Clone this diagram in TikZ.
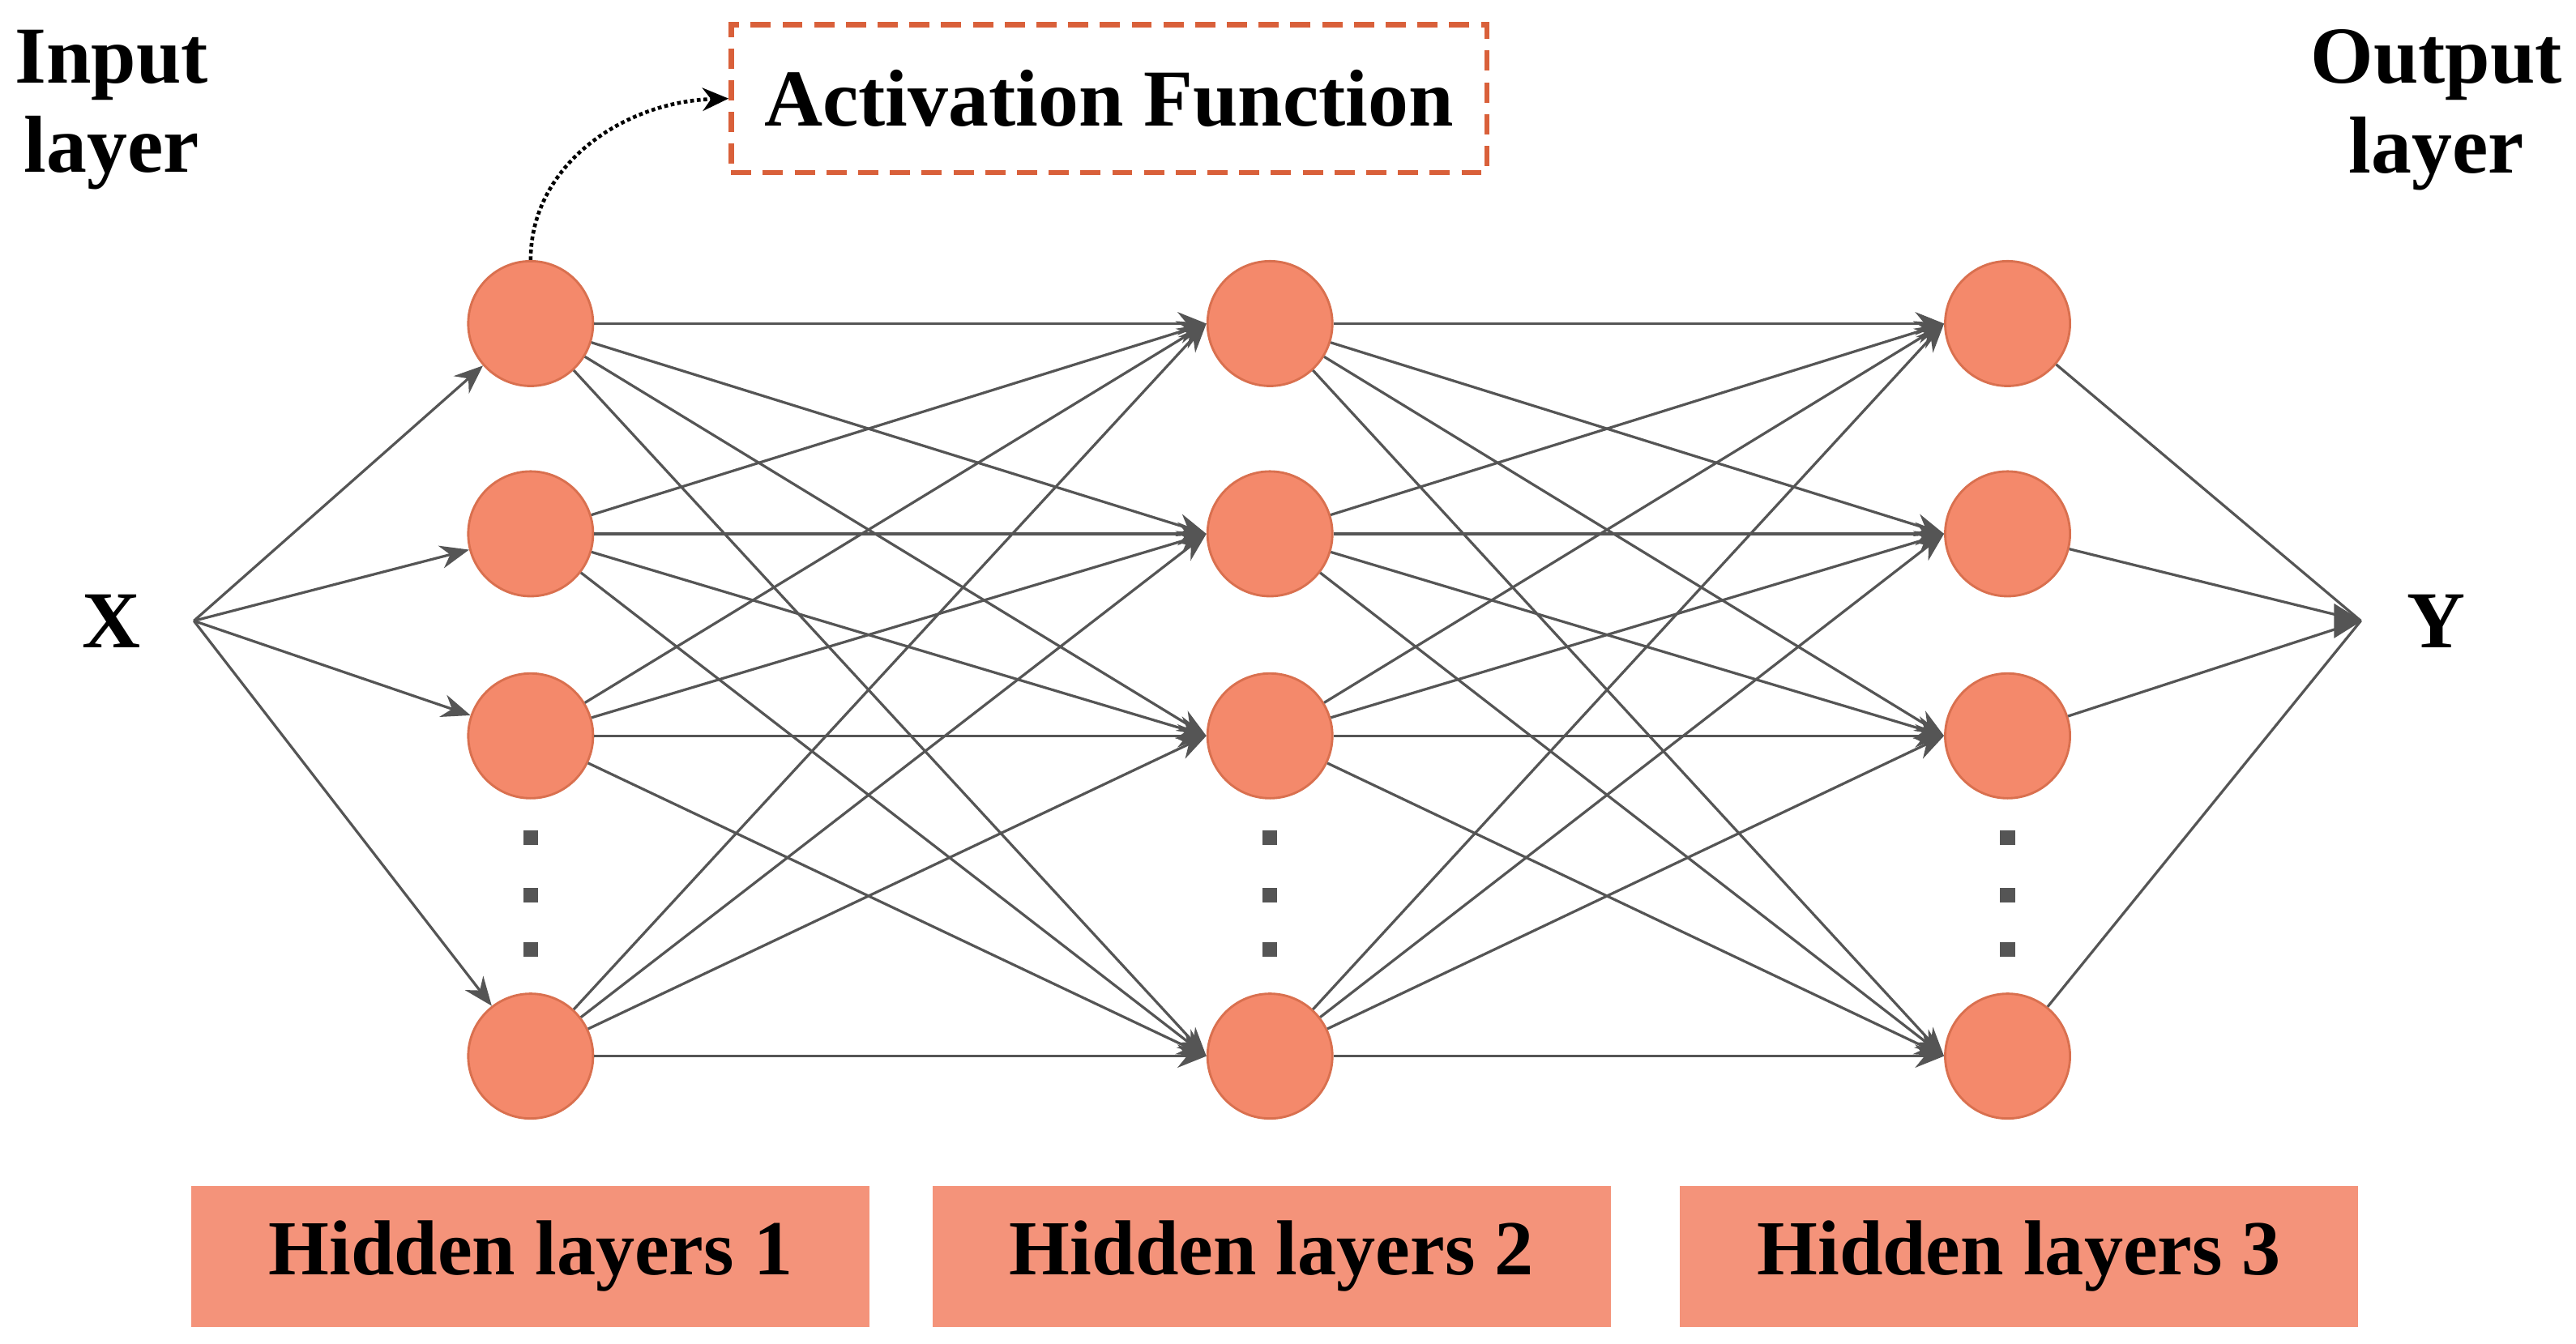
\documentclass[tikz,border=0pt]{standalone}
\usepackage{fontspec}
\setmainfont{Liberation Serif}
\usetikzlibrary{arrows.meta}
\definecolor{nodefill}{HTML}{F4896B}
\definecolor{nodeline}{HTML}{D9704F}
\definecolor{boxfill}{HTML}{F4937A}
\definecolor{edge}{HTML}{555555}
\definecolor{dash}{HTML}{D9603A}
\begin{document}
\begin{tikzpicture}[x=0.02cm,y=-0.02cm,
  neuron/.style={circle,fill=nodefill,draw=nodeline,line width=0.8pt,minimum size=1.52cm,inner sep=0pt},
  conn/.style={draw=edge,line width=0.9pt,-{Stealth[length=10pt,width=8pt]}},
  plain/.style={draw=edge,line width=0.9pt},
  lbl/.style={font=\bfseries\fontsize{28}{31}\selectfont,align=center},
  hbox/.style={fill=boxfill,minimum width=8.26cm,minimum height=1.72cm,font=\bfseries\fontsize{27}{30}\selectfont},
  dot/.style={fill=edge,minimum size=0.18cm,inner sep=0pt}]
\useasboundingbox (0,0) rectangle (1568,818);
\foreach \c/\x in {a/323,b/773,c/1222}{
  \foreach \r/\y in {1/197,2/325,3/448,4/643}{
    \node[neuron] (\c\r) at (\x,\y) {};
  }
  \foreach \k/\y in {1/510,2/545,3/578}{\node[dot] (\c d\k) at (\x,\y) {};}
}
\node[lbl] (X) at (68,378) {X};
\node[lbl] (Y) at (1483,378) {Y};
\coordinate (xs) at (118,378);
\coordinate (ye) at (1437,378);
\node[lbl] (in) at (68,67) {Input\\layer};
\node[lbl] (out) at (1483,67) {Output\\layer};
\node[draw=dash,dash pattern=on 7pt off 4pt,line width=1.8pt,minimum width=9.2cm,minimum height=1.8cm,lbl] (act) at (675,60) {Activation Function};
\foreach \r in {1,...,4}{\draw[conn] (xs) -- (a\r);}
\foreach \i in {1,...,4}{\foreach \j in {1,...,4}{
  \draw[conn] (a\i) -- (b\j.west);
  \draw[conn] (b\i) -- (c\j.west);
}}
\foreach \r in {1,...,4}{\draw[plain] (c\r) -- (ye);}
\draw[edge,fill=edge] (ye) -- ++(-16,-10) -- ++(0,20) -- cycle;
\draw[densely dotted,line width=1.3pt,-{Stealth[length=9pt,width=8pt]}] (a1.north) .. controls (323,100) and (380,62) .. (act.west);
\node[hbox] (h1) at (323,765) {Hidden layers 1};
\node[hbox] (h2) at (774,765) {Hidden layers 2};
\node[hbox] (h3) at (1229,765) {Hidden layers 3};
\end{tikzpicture}
\end{document}
